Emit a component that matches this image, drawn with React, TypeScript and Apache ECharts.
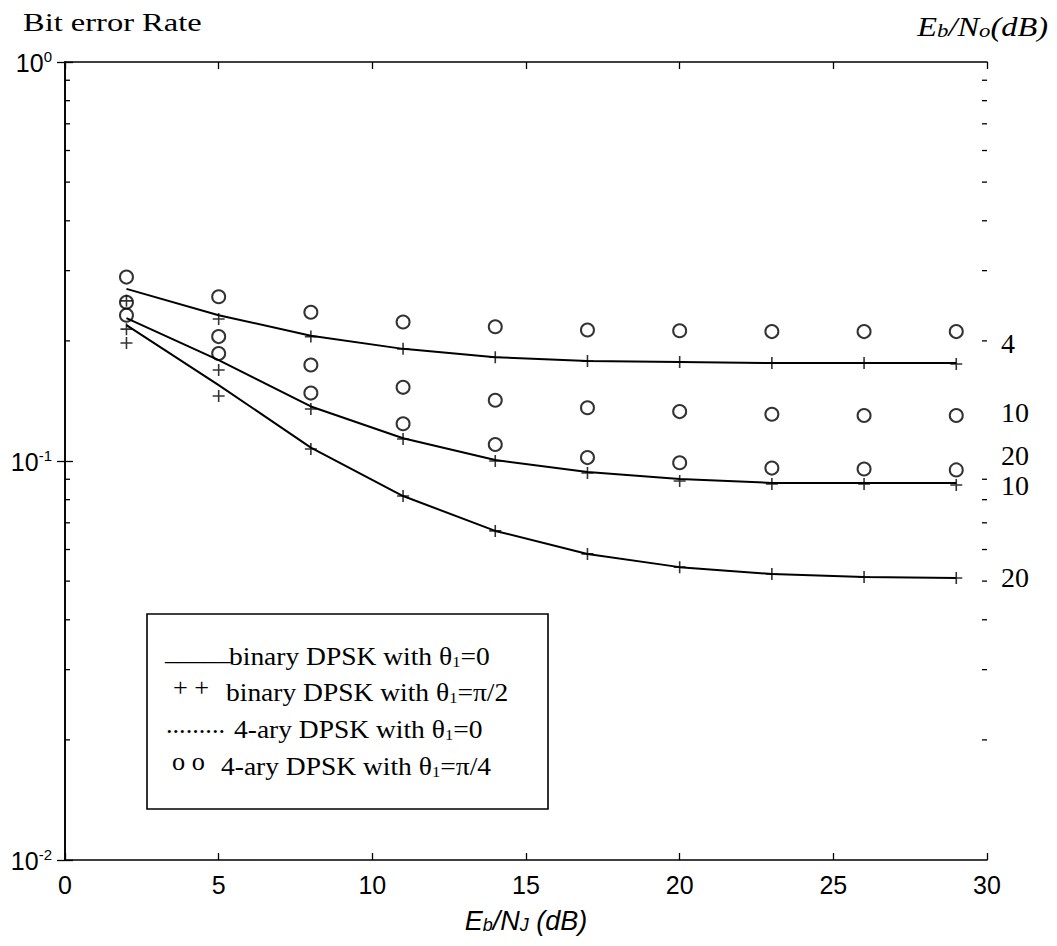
import React, { useEffect, useRef } from "react";
import * as echarts from "echarts";

// ---------- data ----------
const EB_NJ = [2, 5, 8, 11, 14, 17, 20, 23, 26, 29];

// solid lines: binary DPSK, theta1 = 0  (Eb/No = 4, 10, 20 dB)
const LINE_4DB = [0.27, 0.232, 0.206, 0.191, 0.182, 0.178, 0.177, 0.176, 0.176, 0.176];
const LINE_10DB = [0.228, 0.179, 0.137, 0.114, 0.1006, 0.0938, 0.0901, 0.0881, 0.0881, 0.0881];
const LINE_20DB = [0.219, 0.155, 0.108, 0.0817, 0.0668, 0.0585, 0.0542, 0.0521, 0.0512, 0.0509];

// plus markers: binary DPSK, theta1 = pi/2
const PLUS_4DB = [0.252, 0.227, 0.205, 0.191, 0.182, 0.178, 0.177, 0.176, 0.176, 0.175];
const PLUS_10DB = [0.214, 0.169, 0.135, 0.1135, 0.1, 0.0933, 0.0891, 0.0876, 0.0876, 0.0871];
const PLUS_20DB = [0.1975, 0.1455, 0.1072, 0.0817, 0.0668, 0.0585, 0.0542, 0.0521, 0.0512, 0.0509];

// circle markers: 4-ary DPSK, theta1 = pi/4
const CIRC_4DB = [0.289, 0.258, 0.236, 0.223, 0.217, 0.213, 0.212, 0.211, 0.211, 0.211];
const CIRC_10DB = [0.25, 0.205, 0.174, 0.153, 0.142, 0.136, 0.133, 0.131, 0.13, 0.13];
const CIRC_20DB = [0.232, 0.186, 0.148, 0.124, 0.11, 0.102, 0.099, 0.096, 0.0955, 0.095];

const MINOR_TICKS = [0.02, 0.03, 0.04, 0.05, 0.06, 0.07, 0.08, 0.09, 0.2, 0.3, 0.4, 0.5, 0.6, 0.7, 0.8, 0.9];

const LEGEND_MARKS = ["_____", "+ +", ".........", "o o"];
const LEGEND_TEXTS = [
  "{t|binary DPSK with θ}{s|1}{t|=0}",
  "{t|binary DPSK with θ}{s|1}{t|=π/2}",
  "{t|4-ary DPSK with θ}{s|1}{t|=0}",
  "{t|4-ary DPSK with θ}{s|1}{t|=π/4}",
];
const RIGHT_LABELS = ["4", "10", "20", "10", "20"];

const X_MIN = 0;
const X_MAX = 30;
const X_INTERVAL = 5;

const SERIF = '"Liberation Serif", "Times New Roman", serif';
const NARROW = '"Liberation Sans Narrow", "Liberation Sans", Arial, sans-serif';

const pair = (ys: number[]) => EB_NJ.map((x, i) => [x, ys[i]]);

const PLUS_PATH = "path://M0,6L12,6M6,0L6,12";

function buildOption() {
  const lineSeries = [LINE_4DB, LINE_10DB, LINE_20DB].map((ys, i) => ({
    name: "binary DPSK θ1=0 #" + i,
    type: "line",
    data: pair(ys),
    showSymbol: false,
    symbol: "none",
    lineStyle: { color: "#000", width: 2 },
    z: 2,
  }));
  const plusSeries = [PLUS_4DB, PLUS_10DB, PLUS_20DB].map((ys, i) => ({
    name: "binary DPSK θ1=π/2 #" + i,
    type: "scatter",
    data: pair(ys),
    symbol: PLUS_PATH,
    symbolSize: 12,
    itemStyle: { color: "none", borderColor: "#000", borderWidth: 1.6 },
    z: 3,
  }));
  const circSeries = [CIRC_4DB, CIRC_10DB, CIRC_20DB].map((ys, i) => ({
    name: "4-ary DPSK θ1=π/4 #" + i,
    type: "scatter",
    data: pair(ys),
    symbol: "circle",
    symbolSize: 13,
    itemStyle: { color: "none", borderColor: "#000", borderWidth: 2 },
    z: 4,
  }));

  const minorTickSeries = {
    type: "custom",
    silent: true,
    data: MINOR_TICKS.map((v) => [X_MIN, v]),
    renderItem: (params: any, api: any) => {
      const y = api.coord([X_MIN, api.value(1)])[1];
      const xl = api.coord([X_MIN, 1])[0];
      const xr = api.coord([X_MAX, 1])[0];
      return {
        type: "group",
        children: [
          { type: "line", shape: { x1: xl, y1: y, x2: xl + 5, y2: y }, style: { stroke: "#000", lineWidth: 1.3 } },
          { type: "line", shape: { x1: xr - 5, y1: y, x2: xr, y2: y }, style: { stroke: "#000", lineWidth: 1.3 } },
        ],
      };
    },
    z: 5,
  };

  const axisLine = { show: true, lineStyle: { color: "#000", width: 1.6 } };

  const graphic: any[] = [
    {
      type: "text",
      x: 23,
      y: 22,
      scaleX: 1.25,
      style: { text: "Bit error Rate", fontSize: 26, fontFamily: SERIF, fill: "#000", align: "left", verticalAlign: "middle" },
    },
    {
      type: "text",
      x: 1048,
      y: 24,
      scaleX: 1.2,
      style: {
        text: "{t|E}{s|b}{t|/N}{s|o}{t|(dB)}",
        align: "right",
        verticalAlign: "middle",
        fill: "#000",
        rich: {
          t: { fontSize: 27, fontFamily: SERIF, fontStyle: "italic", lineHeight: 32, verticalAlign: "bottom" },
          s: { fontSize: 19, fontFamily: SERIF, fontStyle: "italic", lineHeight: 10, verticalAlign: "bottom" },
        },
      },
    },
    {
      type: "text",
      x: 526,
      y: 918,
      style: {
        text: "{t|E}{s|b}{t|/N}{s|J}{t| (dB)}",
        align: "center",
        verticalAlign: "middle",
        fill: "#000",
        rich: {
          t: { fontSize: 27, fontFamily: NARROW, fontStyle: "italic", lineHeight: 32, verticalAlign: "bottom" },
          s: { fontSize: 18, fontFamily: NARROW, fontStyle: "italic", lineHeight: 10, verticalAlign: "bottom" },
        },
      },
    },
    {
      type: "rect",
      shape: { x: 147, y: 614, width: 401, height: 195 },
      style: { fill: "#fff", stroke: "#000", lineWidth: 1.6 },
      z: 10,
    },
  ];

  const legendRows = [652, 688, 725, 762];
  const markX = [165, 173, 166, 172];
  const textX = [229, 226, 234, 221];
  legendRows.forEach((y, i) => {
    graphic.push({
      type: "text",
      x: markX[i],
      y: y,
      z: 11,
      scaleX: 1.05,
      style: { text: LEGEND_MARKS[i], fontSize: 25, fontFamily: SERIF, fill: "#000", align: "left", verticalAlign: "middle" },
    });
    graphic.push({
      type: "text",
      x: textX[i],
      y: y + 2,
      z: 11,
      scaleX: 1.1,
      style: {
        text: LEGEND_TEXTS[i],
        fill: "#000",
        align: "left",
        verticalAlign: "middle",
        rich: {
          t: { fontSize: 25, fontFamily: SERIF, lineHeight: 30, verticalAlign: "bottom" },
          s: { fontSize: 15, fontFamily: SERIF, lineHeight: 10, verticalAlign: "bottom" },
        },
      },
    });
  });

  const rightY = [343, 412, 455, 485, 577];
  rightY.forEach((y, i) => {
    graphic.push({
      type: "text",
      x: 1001,
      y,
      style: { text: RIGHT_LABELS[i], fontSize: 28, fontFamily: SERIF, fill: "#000", align: "left", verticalAlign: "middle" },
    });
  });

  return {
    animation: false,
    backgroundColor: "#fff",
    grid: { left: 65, right: 70, top: 62, bottom: 86, containLabel: false },
    xAxis: [
      {
        type: "value",
        min: X_MIN,
        max: X_MAX,
        interval: X_INTERVAL,
        position: "bottom",
        axisLine,
        axisTick: { show: true, inside: true, length: 7, lineStyle: { color: "#000", width: 1.3 } },
        axisLabel: { color: "#000", fontSize: 25, fontFamily: NARROW, margin: 12 },
        splitLine: { show: false },
      },
      {
        type: "value",
        min: X_MIN,
        max: X_MAX,
        interval: X_INTERVAL,
        position: "top",
        axisLine,
        axisTick: { show: true, inside: true, length: 7, lineStyle: { color: "#000", width: 1.3 } },
        axisLabel: { show: false },
        splitLine: { show: false },
      },
    ],
    yAxis: [
      {
        type: "log",
        logBase: 10,
        min: 0.01,
        max: 1,
        position: "left",
        axisLine,
        axisTick: { show: true, inside: true, length: 8, lineStyle: { color: "#000", width: 1.3 } },
        axisLabel: {
          color: "#000",
          margin: 13,
          formatter: (v: number) => `{b|10}{e|${Math.round(Math.log10(v))}}`,
          rich: {
            b: { fontSize: 25, fontFamily: NARROW, lineHeight: 26, verticalAlign: "bottom" },
            e: { fontSize: 15, fontFamily: NARROW, lineHeight: 14, verticalAlign: "top" },
          },
        },
        splitLine: { show: false },
      },
      {
        type: "log",
        logBase: 10,
        min: 0.01,
        max: 1,
        position: "right",
        axisLine,
        axisTick: { show: true, inside: true, length: 8, lineStyle: { color: "#000", width: 1.3 } },
        axisLabel: { show: false },
        splitLine: { show: false },
      },
    ],
    series: [...lineSeries, ...plusSeries, ...circSeries, minorTickSeries],
    graphic,
  };
}

export default function App() {
  const ref = useRef<HTMLDivElement>(null);
  useEffect(() => {
    if (!ref.current) return;
    const chart = echarts.init(ref.current, null, { renderer: "svg" });
    chart.setOption(buildOption() as any);
    return () => chart.dispose();
  }, []);
  return (
    <div
      ref={ref}
      style={{ position: "absolute", left: 0, top: 0, width: 1057, height: 946, background: "#fff" }}
    />
  );
}
